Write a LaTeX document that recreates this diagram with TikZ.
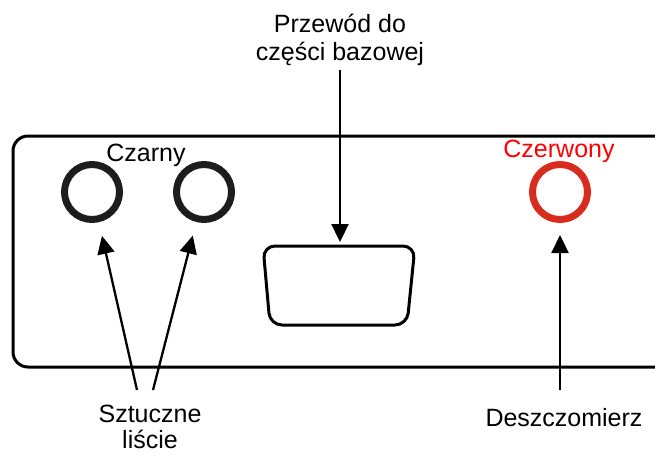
\documentclass[tikz,border=0pt]{standalone}
\usepackage{fontspec}
\setmainfont{Liberation Sans}
\usepackage{xcolor}
\usepackage{tikz}
\usetikzlibrary{arrows.meta}
\definecolor{ringblack}{RGB}{30,28,28}
\definecolor{ringred}{RGB}{218,44,30}
\tikzset{>={Triangle[length=18pt,width=17pt]}}
\tikzset{
  lbl/.style={inner sep=0pt, anchor=north, align=center, font=\fontsize{25}{28}\selectfont},
  socket/.style={circle, draw, line width=7pt, minimum size=55pt, inner sep=0pt},
  pointer/.style={line width=2.3pt, ->}
}

\begin{document}
\begin{tikzpicture}[x=1pt, y=-1pt]
    \useasboundingbox (0,0) rectangle (655,456);
    \draw[line width=3pt, rounded corners=15pt] (13,136) rectangle (670,367);
    % gniazda
    \node[socket, draw=ringblack] (black1) at (92,192) {};
    \node[socket, draw=ringblack] (black2) at (204,192) {};
    \node[socket, draw=ringred] (red) at (560,192) {};
    \draw[line width=3pt, rounded corners=12pt] (263,246) -- (415,246) -- (407,325) -- (270,325) -- cycle;
    \coordinate (plug) at (340,246);
    % opisy
    \node[lbl] (czarny) at (146,144) {Czarny};
    \node[lbl, text=red] (czerwony) at (559,140) {Czerwony};
    \node[lbl] (przewod) at (340,14) {Przewód do\\części bazowej};
    \node[lbl, font=\fontsize{25}{26}\selectfont] (liscie) at (150,405) {Sztuczne\\liście};
    \node[lbl] (deszcz) at (564,408) {Deszczomierz};
    \coordinate (leafA) at (137,390);
    \coordinate (leafB) at (153,390);
    \coordinate (rain) at (560,390);
    \draw[pointer, shorten <=4pt, shorten >=4pt] (przewod.south) -- (plug);
    \draw[pointer, shorten >=14pt] (leafA) -- (black1);
    \draw[pointer, shorten >=14pt] (leafB) -- (black2);
    \draw[pointer, shorten >=12pt] (rain) -- (red);
  \end{tikzpicture}
\end{document}
